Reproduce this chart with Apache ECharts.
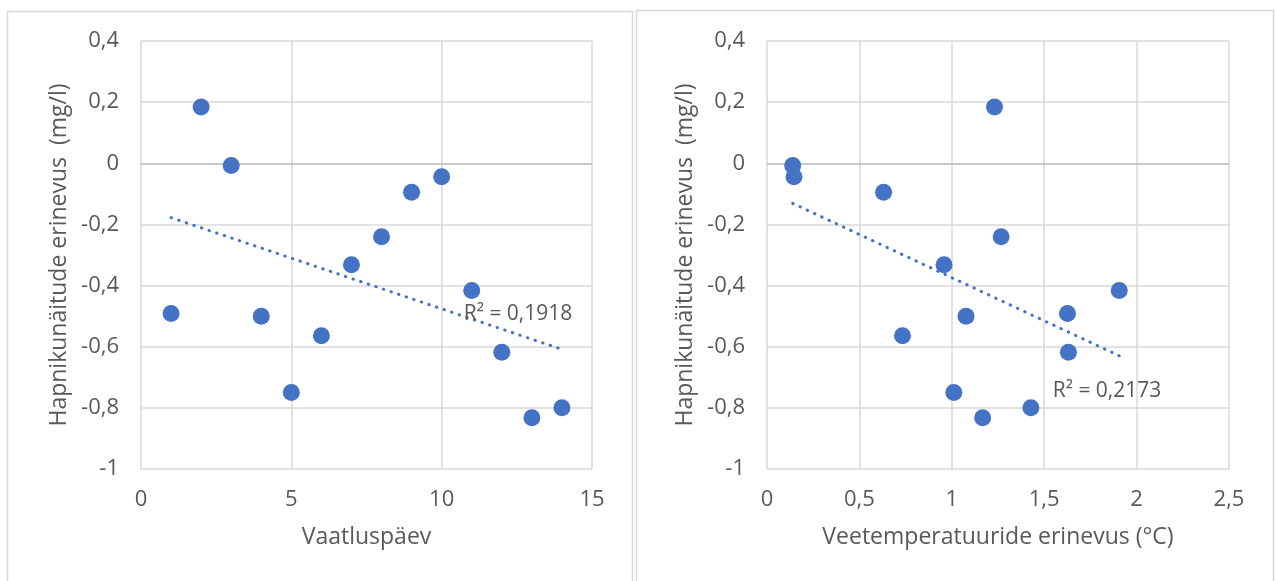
<!DOCTYPE html>
<html><head><meta charset="utf-8">
<script src="https://cdn.jsdelivr.net/npm/echarts@6/dist/echarts.min.js"></script>
<style>html,body{margin:0;padding:0;background:#fff}#c{width:1276px;height:581px}</style>
</head><body><div id="c"></div>
<script>
// Left chart: observation day vs oxygen difference
const days = [1, 2, 3, 4, 5, 6, 7, 8, 9, 10, 11, 12, 13, 14];
const oxygenDiff = [-0.491, 0.184, -0.007, -0.50, -0.750, -0.564, -0.332, -0.240, -0.095, -0.044, -0.416, -0.618, -0.832, -0.800];
// Right chart: water temperature difference for the same days
const tempDiff = [1.626, 1.231, 0.139, 1.077, 1.011, 0.733, 0.958, 1.267, 0.631, 0.146, 1.906, 1.631, 1.167, 1.428];
const r2Labels = ['R² = 0,1918', 'R² = 0,2173'];
const yTicks = [0.4, 0.2, 0, -0.2, -0.4, -0.6, -0.8, -1];
const leftXTicks = [0, 5, 10, 15];
const rightXTicks = [0, 0.5, 1, 1.5, 2, 2.5];
const yName = 'Hapnikunäitude erinevus  (mg/l)';
const xNames = ['Vaatluspäev', 'Veetemperatuuride erinevus (°C)'];

function trend(xs, ys) {
  const n = xs.length;
  const mx = xs.reduce((a, b) => a + b, 0) / n;
  const my = ys.reduce((a, b) => a + b, 0) / n;
  let sxy = 0, sxx = 0;
  for (let i = 0; i < n; i++) { sxy += (xs[i] - mx) * (ys[i] - my); sxx += (xs[i] - mx) ** 2; }
  const b = sxy / sxx, a = my - b * mx;
  const x0 = Math.min(...xs), x1 = Math.max(...xs);
  return [[x0, a + b * x0], [x1, a + b * x1]];
}

const FONT = 'Open Sans';
const TXT = '#595959';
const BLUE = '#4472C4';
const fmt = v => String(Math.round(v * 10) / 10).replace('.', ',');

function xAxisCfg(gi, max, interval, name) {
  return {
    type: 'value', gridIndex: gi, min: 0, max: max, interval: interval,
    name: name, nameLocation: 'middle', nameGap: 57,
    nameTextStyle: { color: TXT, fontFamily: FONT, fontSize: 23 },
    axisLine: { show: false }, axisTick: { show: false },
    axisLabel: { color: TXT, fontFamily: FONT, fontSize: 22, margin: 20, formatter: fmt },
    splitLine: { show: true, lineStyle: { color: '#d9d9d9', width: 1.5 } }
  };
}
function yAxisCfg(gi) {
  return {
    type: 'value', gridIndex: gi, min: -1, max: 0.4, interval: 0.2,
    name: yName, nameLocation: 'middle', nameGap: 70,
    nameTextStyle: { color: TXT, fontFamily: FONT, fontSize: 23 },
    axisLine: { show: false }, axisTick: { show: false },
    axisLabel: { color: TXT, fontFamily: FONT, fontSize: 22, margin: 22, formatter: fmt },
    splitLine: { show: true, lineStyle: { color: '#d9d9d9', width: 1.5 } }
  };
}

const leftPts = days.map((d, i) => [d, oxygenDiff[i]]);
const rightPts = tempDiff.map((t, i) => [t, oxygenDiff[i]]);

function scatter(gi, data) {
  return { type: 'scatter', xAxisIndex: gi, yAxisIndex: gi, data: data, symbolSize: 17, z: 5,
    itemStyle: { color: BLUE, opacity: 1 }, silent: true,
    markLine: { silent: true, symbol: 'none', label: { show: false },
      lineStyle: { color: '#bfbfbf', width: 1.5, type: 'solid' }, data: [{ yAxis: 0 }] } };
}
function trendSeries(gi, xs, ys) {
  return { type: 'line', xAxisIndex: gi, yAxisIndex: gi, data: trend(xs, ys), showSymbol: false, z: 4,
    lineStyle: { color: BLUE, width: 3, type: [0.5, 7.5], cap: 'round' }, silent: true };
}

const chart = echarts.init(document.getElementById('c'), null, { renderer: 'canvas' });
chart.setOption({
  animation: false,
  grid: [
    { left: 141, top: 41, width: 451, height: 428 },
    { left: 767, top: 41, width: 462, height: 428 }
  ],
  xAxis: [xAxisCfg(0, 15, 5, xNames[0]), xAxisCfg(1, 2.5, 0.5, xNames[1])],
  yAxis: [yAxisCfg(0), yAxisCfg(1)],
  series: [
    scatter(0, leftPts), trendSeries(0, days, oxygenDiff),
    scatter(1, rightPts), trendSeries(1, tempDiff, oxygenDiff)
  ],
  graphic: [
    { type: 'rect', shape: { x: 7.5, y: 11.5, width: 625, height: 600 }, style: { fill: 'none', stroke: '#d9d9d9', lineWidth: 1.5 }, silent: true },
    { type: 'rect', shape: { x: 636.5, y: 10.5, width: 637, height: 600 }, style: { fill: 'none', stroke: '#d9d9d9', lineWidth: 1.5 }, silent: true },
    { type: 'text', x: 518, y: 314, z: 10, style: { text: r2Labels[0], fill: TXT, font: '21px "Open Sans"', align: 'center', verticalAlign: 'middle' } },
    { type: 'text', x: 1107, y: 391, z: 10, style: { text: r2Labels[1], fill: TXT, font: '21px "Open Sans"', align: 'center', verticalAlign: 'middle' } }
  ]
});
</script></body></html>
